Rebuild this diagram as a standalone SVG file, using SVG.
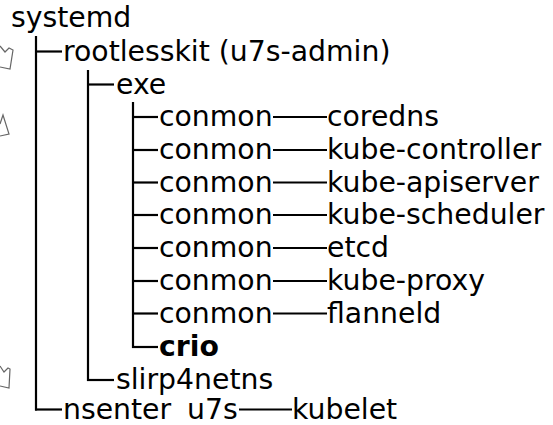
<svg xmlns="http://www.w3.org/2000/svg" width="553" height="425" viewBox="0 0 553 425">
<style>
text{font-family:"DejaVu Sans",sans-serif;font-size:28.3px;fill:#000}
.b{font-weight:bold}
.c line{stroke:#000;stroke-width:2.2}
.a{fill:none;stroke:#666;stroke-width:1.2}
</style>
<rect width="553" height="425" fill="#fff"/>
<g id="marks">
<polyline class="a" points="0,46 5,52 9,48 13,50 10,69 0,67"/>
<polyline class="a" points="0,124 3,115 9,134 0,136"/>
<polyline class="a" points="0,366 4,372 8,368 10,369 9,388 0,386"/>
</g>
<g class="c" id="connectors">
<line x1="36" y1="36" x2="36" y2="410.5"/>
<line x1="36" y1="51.5" x2="62" y2="51.5"/>
<line x1="35" y1="409.5" x2="62" y2="409.5"/>
<line x1="88" y1="70" x2="88" y2="381"/>
<line x1="88" y1="84.5" x2="114" y2="84.5"/>
<line x1="87" y1="380" x2="114" y2="380"/>
<line x1="133" y1="102" x2="133" y2="348"/>
<line x1="133" y1="117" x2="158" y2="117"/>
<line x1="133" y1="150" x2="158" y2="150"/>
<line x1="133" y1="182.5" x2="158" y2="182.5"/>
<line x1="133" y1="215" x2="158" y2="215"/>
<line x1="133" y1="248" x2="158" y2="248"/>
<line x1="133" y1="281" x2="158" y2="281"/>
<line x1="133" y1="313.5" x2="158" y2="313.5"/>
<line x1="132" y1="347" x2="158" y2="347"/>
<line x1="273" y1="117" x2="327" y2="117"/>
<line x1="273" y1="150" x2="327" y2="150"/>
<line x1="273" y1="182.5" x2="327" y2="182.5"/>
<line x1="273" y1="215" x2="327" y2="215"/>
<line x1="273" y1="248" x2="327" y2="248"/>
<line x1="273" y1="281" x2="327" y2="281"/>
<line x1="273" y1="313.5" x2="327" y2="313.5"/>
<line x1="239" y1="409.5" x2="292" y2="409.5"/>
</g>
<g id="systemd"><text x="11" y="27">systemd</text></g>
<g id="rootlesskit"><text x="63" y="60.5">rootlesskit (u7s-admin)</text></g>
<g id="exe"><text x="116" y="93.5">exe</text></g>
<g id="conmon1"><text x="159" y="126">conmon</text></g>
<g id="coredns"><text x="327" y="126">coredns</text></g>
<g id="conmon2"><text x="159" y="159">conmon</text></g>
<g id="kube-controller"><text x="327" y="159">kube-controller</text></g>
<g id="conmon3"><text x="159" y="191.5">conmon</text></g>
<g id="kube-apiserver"><text x="327" y="191.5">kube-apiserver</text></g>
<g id="conmon4"><text x="159" y="224">conmon</text></g>
<g id="kube-scheduler"><text x="327" y="224">kube-scheduler</text></g>
<g id="conmon5"><text x="159" y="257">conmon</text></g>
<g id="etcd"><text x="327" y="257">etcd</text></g>
<g id="conmon6"><text x="159" y="290">conmon</text></g>
<g id="kube-proxy"><text x="327" y="290">kube-proxy</text></g>
<g id="conmon7"><text x="159" y="322.5">conmon</text></g>
<g id="flanneld"><text x="327" y="322.5">flanneld</text></g>
<g id="crio"><text class="b" x="159" y="356">crio</text></g>
<g id="slirp4netns"><text x="116" y="389">slirp4netns</text></g>
<g id="nsenter"><text x="63" y="418.5">nsenter<tspan x="187">u7s</tspan></text></g>
<g id="kubelet"><text x="292" y="418.5">kubelet</text></g>
</svg>
